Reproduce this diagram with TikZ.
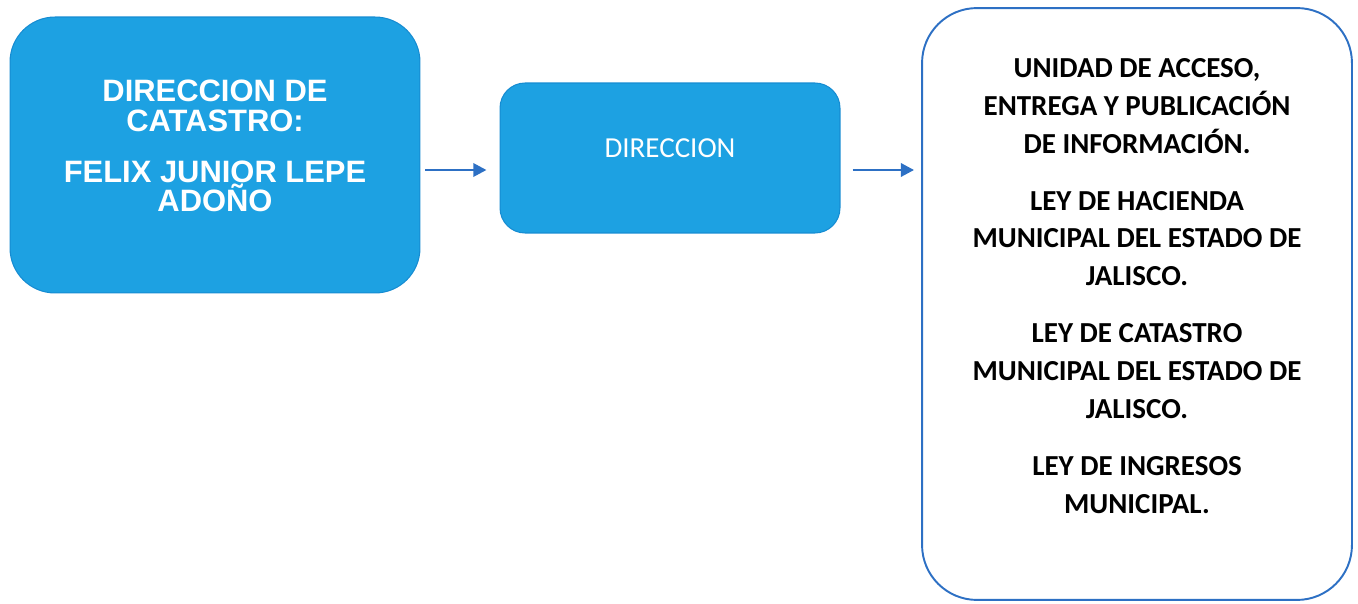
\documentclass[tikz,border=0pt]{standalone}
\usepackage{fontspec}
\setmainfont{Carlito}
\newfontfamily\arialfont{Liberation Sans}
\usetikzlibrary{positioning, calc, arrows.meta}
\definecolor{azulcaja}{RGB}{29,161,226}
\definecolor{bordecaja}{RGB}{22,140,210}
\definecolor{azullinea}{RGB}{45,112,196}

\begin{document}
\begin{tikzpicture}[x=0.02cm, y=-0.02cm,
    caja/.style={draw=bordecaja, fill=azulcaja, line width=0.6pt},
    marco/.style={draw=azullinea, fill=white, line width=1.1pt, rounded corners=1.1cm},
    flecha/.style={draw=azullinea, line width=1.6pt, -{Triangle[length=7.5pt, width=7.5pt]}}]

    % --- Page frame (fixes the margins) ---
    \useasboundingbox (0,0) rectangle (1358,604);

    % --- Left box: Direccion de Catastro ---
    \node[caja, rounded corners=0.9cm, minimum width=8.2cm, minimum height=5.52cm] (catastro) at (215,155) {};
    \node[text=white, align=center, font=\arialfont\bfseries\fontsize{17.6}{17}\selectfont] (catastrotxt) at (215,146)
        {DIRECCION DE\\ CATASTRO:\\[12pt] FELIX JUNIOR LEPE\\ ADOÑO};

    % --- Middle box: Direccion ---
    \node[caja, rounded corners=0.5cm, minimum width=6.8cm, minimum height=3cm] (direccion) at (670,158) {};
    \node[text=white, font=\fontsize{16.5}{20}\selectfont] (direcciontxt) at (670,148) {DIRECCION};

    % --- Right box: legal framework ---
    \node[marco, minimum width=8.6cm, minimum height=11.84cm] (leyes) at (1137,304) {};
    \node[align=center, font=\bfseries\fontsize{16.5}{21.5}\selectfont] (leyestxt) at (1137,286)
        {UNIDAD DE ACCESO,\\ ENTREGA Y PUBLICACIÓN\\ DE INFORMACIÓN.\\[11pt]
         LEY DE HACIENDA\\ MUNICIPAL DEL ESTADO DE\\ JALISCO.\\[11pt]
         LEY DE CATASTRO\\ MUNICIPAL DEL ESTADO DE\\ JALISCO.\\[11pt]
         LEY DE INGRESOS\\ MUNICIPAL.};

    % --- Arrows ---
    \draw[flecha] ($(catastro.east)+(5,15)$) -- ($(direccion.west)+(-13,12)$);
    \draw[flecha] ($(direccion.east)+(12,12)$) -- ($(leyes.west |- direccion.east)+(-7,12)$);

\end{tikzpicture}
\end{document}
